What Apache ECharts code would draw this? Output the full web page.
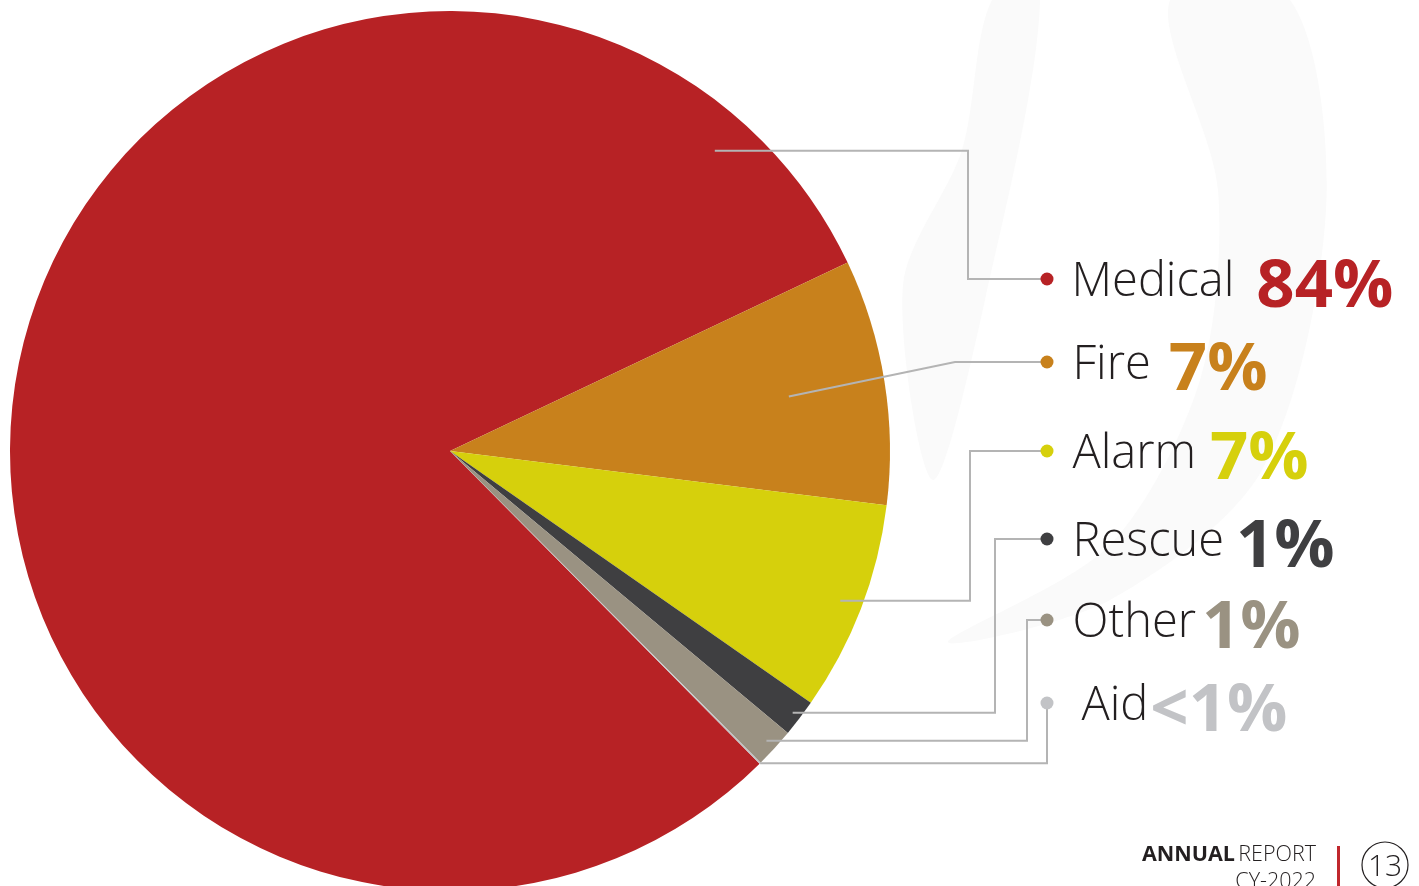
<!DOCTYPE html>
<html>
<head>
<meta charset="utf-8">
<script src="https://cdn.jsdelivr.net/npm/echarts@6/dist/echarts.min.js"></script>
<style>
html,body{margin:0;padding:0;background:#ffffff;}
#main{width:1419px;height:886px;}
</style>
</head>
<body>
<div id="main"></div>
<script>
// ---- data ----
const categories = ['Medical', 'Fire', 'Alarm', 'Rescue', 'Other', 'Aid'];
const shares = [80.38, 9.01, 7.73, 1.37, 1.46, 0.05];
const shareLabels = ['84%', '7%', '7%', '1%', '1%', '<1%'];

// ---- styles / layout ----
const sliceColors = ['#b72225', '#c8811c', '#d6d00c', '#3f3f41', '#9a9282', '#c2c3c6'];
const CX = 450, CY = 451, R = 440;
const DOT_X = 1047;
const labelRowY = [279, 362, 451, 539, 620, 703];
const elbowX = [968, 955, 970, 995, 1027, 1047];
const anchorFrac = [0.91, 0.78, 0.95, 0.98, 0.975, 1.0];
const anchorAngleOverride = [48.6, null, null, null, null, null];
const lineKind = ['step', 'slant', 'step', 'step', 'step', 'step'];
const nameGap = [19, 20, 20, 20, 20, 29];
const pctGap = [22, 18, 14, 12, 6, 2];

const FONT = '"Open Sans", "Noto Sans", sans-serif';

const rich = {};
categories.forEach((c, i) => {
  rich['dot' + i] = { width: 11, height: 11, borderRadius: 5.5, backgroundColor: sliceColors[i], padding: 0 };
  rich['n' + i] = { fontFamily: FONT, fontWeight: 300, fontSize: 47, color: '#231f20', padding: [8, 0, 0, nameGap[i]] };
  rich['p' + i] = { fontFamily: FONT, fontWeight: 700, fontSize: 67, color: sliceColors[i], padding: [18, 0, 0, pctGap[i]] };
});

const sliceData = categories.map((c, i) => ({
  name: c, value: shares[i], itemStyle: { color: sliceColors[i] }
}));
const labelData = categories.map((c, i) => ({
  name: c, value: shares[i]
}));

const chart = echarts.init(document.getElementById('main'), null, { renderer: 'canvas' });

const pieBase = {
  type: 'pie',
  center: [CX, CY],
  radius: R,
  startAngle: 314.72,
  clockwise: true,
  avoidLabelOverlap: false,
  silent: true,
  emphasis: { disabled: true }
};

const dotMarks = categories.map((c, i) => ({
  type: 'circle', silent: true, z: 20,
  shape: { cx: DOT_X, cy: labelRowY[i], r: 6.5 },
  style: { fill: sliceColors[i] }
}));

chart.setOption({
  animation: false,
  backgroundColor: '#ffffff',
  graphic: [
    {
      type: 'polygon', z: -10, silent: true,
      shape: { points: [[992, 0], [962, 150], [903, 285], [933, 480], [985, 300], [1040, 0]], smooth: 0.3 },
      style: { fill: '#fafafa' }
    },
    {
      type: 'polygon', z: -10, silent: true,
      shape: { points: [[1290, 0], [1326, 210], [1262, 470], [1110, 600], [948, 642], [1110, 545], [1200, 380], [1218, 190], [1170, 0]], smooth: 0.3 },
      style: { fill: '#fafafa' }
    },
    {
      type: 'text', silent: true,
      style: {
        x: 1316, y: 855, align: 'right', verticalAlign: 'middle',
        text: '{b|ANNUAL} {l|REPORT}',
        rich: {
          b: { fontFamily: FONT, fontWeight: 700, fontSize: 21.5, fill: '#231f20' },
          l: { fontFamily: FONT, fontWeight: 300, fontSize: 21.5, fill: '#231f20' }
        }
      }
    },
    {
      type: 'text', silent: true,
      style: { x: 1316, y: 882, align: 'right', verticalAlign: 'middle', text: 'CY-2022',
        fontFamily: FONT, fontWeight: 300, fontSize: 21.5, fill: '#231f20' }
    },
    { type: 'rect', silent: true, shape: { x: 1337, y: 846, width: 3, height: 40 }, style: { fill: '#c0272d' } },
    { type: 'circle', silent: true, shape: { cx: 1385, cy: 865, r: 23 }, style: { fill: 'none', stroke: '#231f20', lineWidth: 1.2 } },
    {
      type: 'text', silent: true,
      style: { x: 1385, y: 867, align: 'center', verticalAlign: 'middle', text: '13',
        fontFamily: FONT, fontWeight: 300, fontSize: 30, fill: '#231f20' }
    }
  ].concat(dotMarks),
  series: [
    Object.assign({}, pieBase, {
      z: 2,
      itemStyle: { borderWidth: 0 },
      label: { show: false },
      labelLine: { show: false },
      data: sliceData
    }),
    Object.assign({}, pieBase, {
      z: 5,
      itemStyle: { color: 'rgba(0,0,0,0)', borderWidth: 0 },
      label: {
        show: true,
        position: 'outside',
        formatter: p => `{dot${p.dataIndex}|}{n${p.dataIndex}|${p.name}}{p${p.dataIndex}|${shareLabels[p.dataIndex]}}`,
        rich: rich
      },
      labelLine: {
        show: true, smooth: false, length: 10, length2: 10,
        lineStyle: { color: '#b4b4b4', width: 2 }
      },
      labelLayout: function (params) {
        const i = params.dataIndex;
        const p0 = params.labelLinePoints ? params.labelLinePoints[0] : [CX + R, CY];
        let ang = Math.atan2(CY - p0[1], p0[0] - CX);
        if (anchorAngleOverride[i] != null) ang = anchorAngleOverride[i] * Math.PI / 180;
        const sx = CX + Math.cos(ang) * R * anchorFrac[i];
        const sy = CY - Math.sin(ang) * R * anchorFrac[i];
        const ly = labelRowY[i];
        let pts;
        if (lineKind[i] === 'slant') {
          pts = [[sx, sy], [elbowX[i], ly], [DOT_X, ly]];
        } else {
          pts = [[sx, sy], [elbowX[i], sy], [elbowX[i], ly], [DOT_X, ly]];
        }
        return {
          x: DOT_X - 5.5,
          y: ly,
          align: 'left',
          verticalAlign: 'middle',
          labelLinePoints: pts
        };
      },
      data: labelData
    })
  ]
});
</script>
</body>
</html>
